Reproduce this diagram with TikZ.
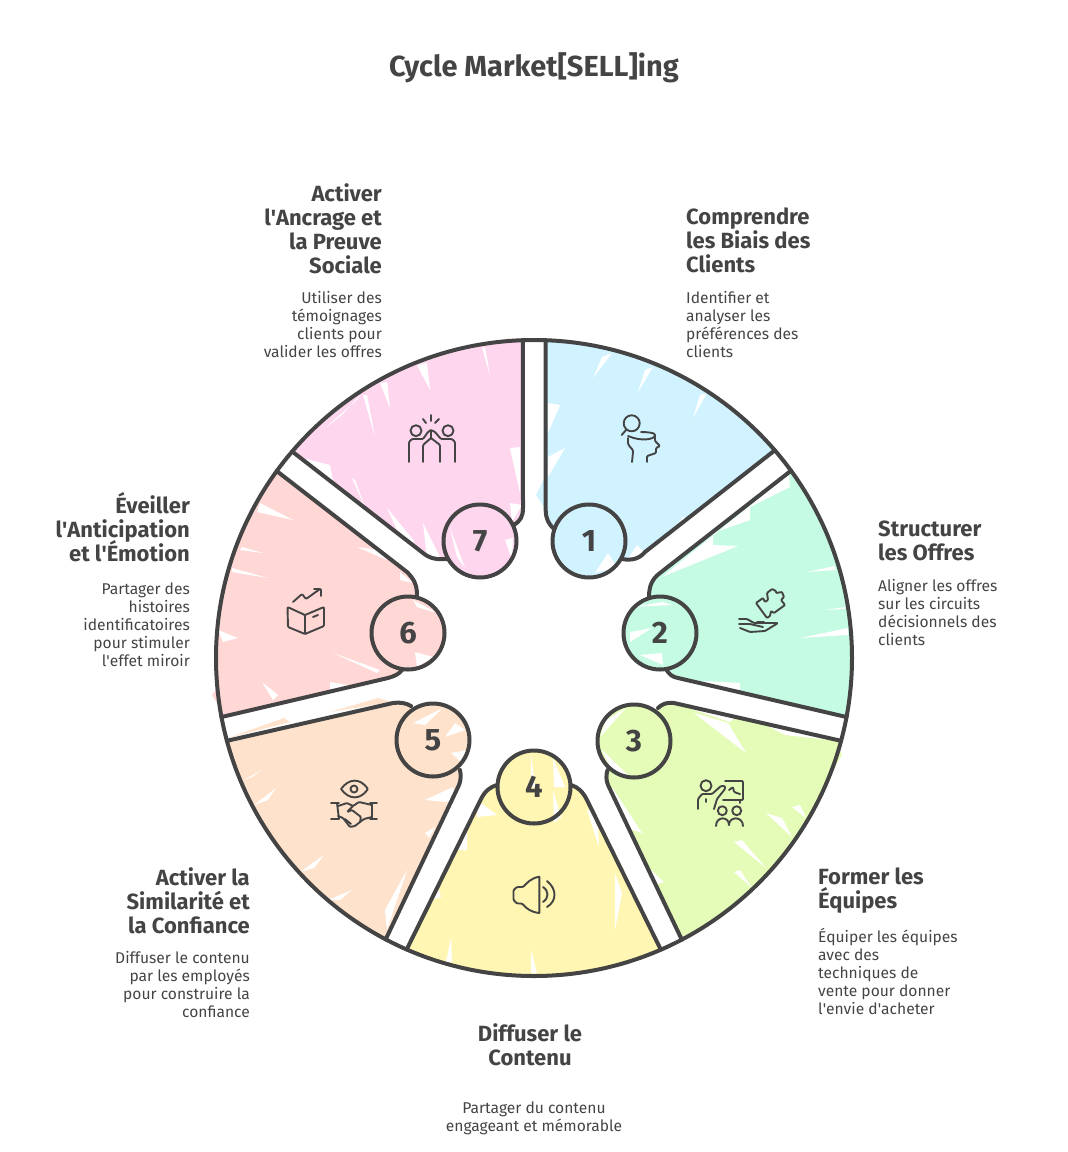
\documentclass[tikz,border=0pt]{standalone}
\usepackage{fontspec}
\setmainfont{Fira Sans}
\definecolor{inkgray}{HTML}{444444}
\definecolor{secA}{HTML}{D1F3FF}
\definecolor{secB}{HTML}{C5FBE3}
\definecolor{secC}{HTML}{E5FCB9}
\definecolor{secD}{HTML}{FFF6B3}
\definecolor{secE}{HTML}{FEE2CB}
\definecolor{secF}{HTML}{FFD8D6}
\definecolor{secG}{HTML}{FED7EF}
\newcommand{\numtxt}[1]{\raisebox{-2pt}{#1}}
\newcommand{\apos}{\textquotesingle}
\newcommand{\tightlines}{\setlength{\lineskiplimit}{-10pt}}
\tikzset{
  edgeline/.style={line width=4pt,inkgray,line cap=round,line join=round},
  numcirc/.style={circle,draw=inkgray,line width=4pt,minimum size=73pt,inner sep=0pt,text=inkgray,font=\fontsize{31}{31}\selectfont\bfseries},
  headtxt/.style={inner sep=0pt,text=inkgray,font=\fontsize{22}{24}\selectfont\bfseries\tightlines},
  desctxt/.style={inner sep=0pt,text=inkgray,font=\fontsize{15.6}{18}\selectfont\tightlines},
  iconline/.style={line width=1.9pt,inkgray,line cap=round,line join=round,rounded corners=1pt},
}
% sector sides, outer end first
\def\sideOneA{(545.7,340.2) -- (545.7,510) .. controls (545.7,519) and (549,524) .. (553,528)}
\def\sideOneB{(622,559) .. controls (633,561) and (640,558) .. (645,552) -- (774.8,450.3)}
\def\sideTwoA{(791,470.7) -- (660,573) .. controls (652,579) and (649,586) .. (649,597)}
\def\sideTwoB{(666,669) .. controls (669,674) and (672,677) .. (678,678) -- (846.5,717)}
\def\sideThreeA{(841,740.8) -- (674,703) .. controls (667,702) and (662,704) .. (658,708)}
\def\sideThreeB{(607.5,770) .. controls (606,775) and (606,780) .. (608,785) -- (681.8,939.6)}
\def\sideFourA{(660.8,949.6) -- (587,800) .. controls (583,792) and (578,787) .. (571,785)}
\def\sideFourB{(497,785) .. controls (490,787) and (485,791) .. (481,799) -- (406.7,949.4)}
\def\sideFiveA{(385.7,939.3) -- (459,785) .. controls (461,780) and (461,775) .. (460,770)}
\def\sideFiveB{(411,706) .. controls (406,703) and (400,702) .. (393,703) -- (227,740.8)}
\def\sideSixA{(221.5,717) -- (388,678) .. controls (395,676) and (399,674) .. (402,670)}
\def\sideSixB{(417,595) .. controls (417,585) and (414,579) .. (407,572) -- (276.7,471)}
\def\sideSevenA{(292.2,451.5) -- (423,553) .. controls (429,558) and (436,560) .. (447,559)}
\def\sideSevenB{(514,525) .. controls (520,521) and (523,517) .. (523,508) -- (522.9,340.2)}
\begin{document}
\begin{tikzpicture}[x=1pt,y=-1pt]
\useasboundingbox (0,0) rectangle (1068,1152);
\foreach \col/\sa/\sb/\aa/\ab in {secA/\sideOneA/\sideOneB/-40.8/-87.9,secB/\sideTwoA/\sideTwoB/10.7/-36.1,secC/\sideThreeA/\sideThreeB/62.3/15.1,secD/\sideFourA/\sideFourB/113.6/66.5,secE/\sideFiveA/\sideFiveB/164.9/117.8,secF/\sideSixA/\sideSixB/216/169.3,secG/\sideSevenA/\sideSevenB/268/220.5}
  \fill[\col] \sa -- \sb arc[start angle=\aa,end angle=\ab,radius=318] -- cycle;
\fill[secA] (589,541) circle[radius=36];
\fill[secB] (660,633) circle[radius=36];
\fill[secC] (634,741) circle[radius=36];
\fill[secD] (534,787) circle[radius=36];
\fill[secE] (433,740) circle[radius=36];
\fill[secF] (408,633) circle[radius=36];
\fill[secG] (480,541) circle[radius=36];
% colour running over the edges
\fill[secE] (228,738)--(284,718)--(290,722)--cycle (330,712)--(378,698)--(392,702)--cycle;
\fill[secF] (212,695)--(222,680)--(224,714)--cycle;
\fill[secA] (536,495)--(546,475)--(546,510)--cycle;
\fill[secC] (838,745)--(842,755)--(830,775)--cycle;
% white gaps of the sketchy fill
\fill[white] (612,353)--(593,378)--(602,357)--cycle (653,367)--(638,392)--(645,370)--cycle (707,393)--(693,418)--(700,395)--cycle
  (565,448)--(548,477)--(548,457)--cycle (560,405)--(548,433)--(548,403)--cycle (608,553)--(595,573)--(617,567)--cycle
  (637,545)--(627,560)--(645,553)--cycle (683,517)--(670,533)--(690,520)--cycle;
\fill[white] (662,577)--(738,546)--(713,545)--(713,533)--(750,520)--(750,507)--(790,487)--(789,474)--cycle
  (807,572)--(835,566)--(835,570)--cycle (825,610)--(845,607)--(845,609)--cycle (800,638)--(848,628)--(848,635)--cycle
  (684,680)--(740,683)--(740,700)--cycle (630,607)--(663,602)--(673,605)--cycle (630,632)--(652,628)--(630,642)--cycle
  (640,655)--(662,653)--(663,665)--cycle;
\fill[white] (694,713)--(746,753)--(728,723)--cycle (766,813)--(792,837)--(782,818)--cycle (734,842)--(766,868)--(742,840)--cycle
  (734,872)--(752,888)--(740,870)--cycle (792,807)--(806,818)--(800,805)--cycle (612,787)--(642,833)--(612,823)--cycle
  (626,847)--(664,882)--(645,887)--cycle (600,737)--(626,708)--(606,720)--cycle (602,750)--(630,777)--(612,772)--cycle
  (680,705)--(730,722)--(742,712)--(785,735)--(838,741)--cycle;
\fill[white] (451,937)--(446,962)--(452,962)--cycle (531,950)--(531,973)--(537,973)--cycle (615,873)--(615,930)--(622,893)--cycle
  (597,810)--(599,847)--(587,810)--cycle (477,800)--(477,817)--(497,815)--cycle (451,850)--(467,823)--(467,850)--cycle
  (439,890)--(441,897)--(421,903)--cycle (531,753)--(531,787)--(535,787)--cycle (553,758)--(554,787)--(565,787)--cycle
  (553,790)--(554,823)--(561,817)--cycle;
\fill[white] (262,770)--(244,780)--(252,777)--cycle (276,788)--(254,805)--(268,800)--cycle (324,855)--(300,872)--(314,868)--cycle
  (352,890)--(328,900)--(340,900)--cycle (453,787)--(425,800)--(457,803)--cycle (435,827)--(425,833)--(429,838)--cycle
  (407,870)--(385,910)--(387,930)--cycle (443,708)--(413,723)--(425,725)--cycle (455,723)--(445,737)--(465,730)--cycle
  (451,753)--(461,762)--(467,750)--cycle;
\fill[white] (260,503)--(293,520)--(257,512)--cycle (242,547)--(263,553)--(240,550)--cycle (232,568)--(268,578)--(232,572)--cycle
  (218,630)--(238,638)--(223,642)--cycle (333,653)--(380,670)--(377,673)--cycle (262,682)--(278,695)--(273,700)--cycle
  (330,682)--(330,690)--(377,690)--cycle (357,547)--(378,550)--(387,560)--cycle (400,572)--(400,580)--(413,583)--cycle
  (413,600)--(437,613)--(417,607)--cycle (415,652)--(433,657)--(417,667)--cycle;
\fill[white] (417,365)--(430,390)--(427,363)--cycle (380,383)--(390,408)--(387,382)--cycle (363,395)--(375,437)--(367,395)--cycle
  (482,348)--(490,375)--(485,347)--cycle (510,448)--(520,493)--(520,447)--cycle (352,478)--(367,512)--(355,480)--cycle
  (387,508)--(415,542)--(403,543)--cycle (423,523)--(440,557)--(427,557)--cycle (325,428)--(342,415)--(360,395)--(357,400)--cycle
  (302,458)--(330,465)--(335,490)--cycle (450,528)--(465,568)--(457,557)--cycle (505,540)--(513,538)--(512,560)--cycle
  (510,503)--(522,505)--(512,522)--cycle;
% outlines
\draw[edgeline] (534,658) circle[radius=318];
\draw[edgeline] \sideOneA \sideOneB;
\draw[edgeline] \sideTwoA \sideTwoB;
\draw[edgeline] \sideThreeA \sideThreeB;
\draw[edgeline] \sideFourA \sideFourB;
\draw[edgeline] \sideFiveA \sideFiveB;
\draw[edgeline] \sideSixA \sideSixB;
\draw[edgeline] \sideSevenA \sideSevenB;
\node[numcirc] (num1) at (589,541) {\numtxt{1}};
\node[numcirc] (num2) at (660,633) {\numtxt{2}};
\node[numcirc] (num3) at (634,741) {\numtxt{3}};
\node[numcirc] (num4) at (534,787) {\numtxt{4}};
\node[numcirc] (num5) at (433,740) {\numtxt{5}};
\node[numcirc] (num6) at (408,633) {\numtxt{6}};
\node[numcirc] (num7) at (480,541) {\numtxt{7}};
% icons
\begin{scope}[shift={(610,405)}]
\draw[iconline] (21.7,18.3) circle[radius=8] (16,25)--(11.7,30);
\draw[iconline] (31,27) .. controls (38,27) and (44,28) .. (45,30) .. controls (44,34) and (32,37) .. (18,31);
\draw[iconline] (18,33)--(18,37) .. controls (18,41) and (23,44) .. (23,47)--(22,57);
\draw[iconline] (45,30)--(45,36)--(50,41)--(46,43)--(46,48)--(37,51)--(37,57);
\end{scope}
\begin{scope}[shift={(730,580)}]
\draw[iconline,rounded corners=0.8pt] (26,23)--(33,18)--(35,22)--(38,20)--(37,13)--(42,9)--(46,11)--(46,13)--(52,12)--(54,17)--(51,20)--(55,25)--(44,33)--(41,31)--(40,36)--(37,38)--cycle;
\draw[iconline] (9,39)--(17,39)--(24,43)--(48,43)--(35,51)--(20,52)--(10,48);
\draw[iconline] (9,44)--(20,44)--(33,47) (27,42)--(34,42);
\end{scope}
\begin{scope}[shift={(690,770)}]
\draw[iconline] (16,15.7) circle[radius=5.5];
\draw[iconline] (8,39)--(8,29)--(12,24)--(22,24)--(31,16)--(35,16)--(35,19)--(27,29)--(24,39) (16,29)--(16,32);
\draw[iconline] (35,11)--(53,11)--(53,30)--(33,30) (50,30)--(50,33) (39,20)--(43,17)--(44,22)--(50,24);
\draw[iconline] (32.3,40.7) circle[radius=4.5] (46.7,40.7) circle[radius=4.5];
\draw[iconline] (26,56) .. controls (26,46) and (39,46) .. (39,56) .. controls (39,46) and (53,46) .. (53,56);
\end{scope}
\begin{scope}[shift={(505,865)}]
\draw[iconline] (34.3,11.7)--(34.3,48) (34.3,11.7) .. controls (26,13) and (22,18) .. (18,22)--(12,22)--(8.5,25)--(8.5,35)--(12,38.5)--(17,38.5) .. controls (22,44) and (26,47) .. (34.3,48);
\draw[iconline] (38,22) .. controls (44,26) and (44,33) .. (38,37) (42,16) .. controls (52,24) and (52,36) .. (42,42);
\end{scope}
\begin{scope}[shift={(325,775)}]
\draw[iconline] (16,14) .. controls (24,3) and (35,3) .. (43,14) .. controls (35,25) and (24,25) .. (16,14) (29,14) circle[radius=3.5];
\draw[iconline] (6,28)--(14,28) (12,28)--(14,44) (6,44)--(14,44) (45,28)--(52,28) (47,28)--(47,44) (45,44)--(52,44);
\draw[iconline] (13,31)--(22,28)--(28,31)--(34,27)--(47,30) (13,41)--(18,43)--(25,52)--(30,51)--(35,47)--(39,44)--(47,42);
\draw[iconline] (28,31)--(22,37)--(27,35)--(36,42)--(35,47) (20,44)--(26,49);
\end{scope}
\begin{scope}[shift={(278,582)}]
\draw[iconline] (9.5,25)--(27,33)--(27,52)--(10,45)--cycle (27,33)--(46,25)--(46,44)--(27,52) (35,35)--(40,33);
\draw[iconline] (15,20)--(24,12)--(28,17)--(42,7) (36,7)--(43,7)--(43,14);
\end{scope}
\begin{scope}[shift={(402,410)}]
\draw[iconline] (14,20.7) circle[radius=5.5] (46,20.7) circle[radius=5.5] (29,5)--(29,11) (21,9)--(24,13) (37,9)--(33,13);
\draw[iconline] (7,52)--(7,32)--(10,29)--(21,29)--(26,22)--(29,20)--(33,22)--(39,29)--(50,29)--(53,32)--(53,52);
\draw[iconline] (21,52)--(21,35)--(29,28)--(38,35)--(38,52) (29,20)--(29,28);
\end{scope}
% texts
\node[text=inkgray,inner sep=0pt,font=\fontsize{29}{32}\selectfont\bfseries] (title) at (534,68) {Cycle Market[SELL]ing};
\node[headtxt,anchor=north west,align=left] (head1) at (686,207) {\strut Comprendre\\les Biais des\\Clients};
\node[desctxt,anchor=north west,align=left] (desc1) at (686,291) {\strut Identifier et\\analyser les\\préférences des\\clients};
\node[headtxt,anchor=north west,align=left] (head2) at (878,519) {\strut Structurer\\les Offres};
\node[desctxt,anchor=north west,align=left] (desc2) at (878,579) {\strut Aligner les offres\\sur les circuits\\décisionnels des\\clients};
\node[headtxt,anchor=north west,align=left] (head3) at (818,867) {\strut Former les\\Équipes};
\node[desctxt,anchor=north west,align=left] (desc3) at (818,928.5) {\strut Équiper les équipes\\avec des\\techniques de\\vente pour donner\\l\apos envie d\apos acheter};
\node[headtxt,anchor=north,align=center] (head4) at (530,1023) {\strut Diffuser le\\Contenu};
\node[desctxt,anchor=north,align=center] (desc4) at (534,1101) {\strut Partager du contenu\\engageant et mémorable};
\node[headtxt,anchor=north east,align=right] (head5) at (250,867) {\strut Activer la\\Similarité et\\la Confiance};
\node[desctxt,anchor=north east,align=right] (desc5) at (250,951) {\strut Diffuser le contenu\\par les employés\\pour construire la\\confiance};
\node[headtxt,anchor=north east,align=right] (head6) at (190,492) {\strut Éveiller\\l\apos Anticipation\\et l\apos Émotion};
\node[desctxt,anchor=north east,align=right] (desc6) at (190,582) {\strut Partager des\\histoires\\identificatoires\\pour stimuler\\l\apos effet miroir};
\node[headtxt,anchor=north east,align=right] (head7) at (382,183) {\strut Activer\\l\apos Ancrage et\\la Preuve\\Sociale};
\node[desctxt,anchor=north east,align=right] (desc7) at (382,291) {\strut Utiliser des\\témoignages\\clients pour\\valider les offres};
\end{tikzpicture}
\end{document}
